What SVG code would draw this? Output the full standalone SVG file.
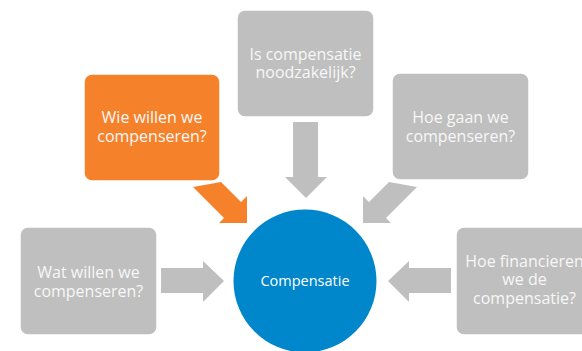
<svg xmlns="http://www.w3.org/2000/svg" width="582" height="351" viewBox="0 0 582 351">
  <style>
    .box { fill: #BFBFBF; stroke: #FFFFFF; stroke-width: 1.5; }
    .box.hl { fill: #F5822A; }
    .arrow { fill: #BFBFBF; }
    .arrow.hl { fill: #F5822A; }
    .lbl { font-family: "Open Sans", "Noto Sans", sans-serif; font-size: 16px; fill: #F7F7F7; text-anchor: middle; }
    .hub { fill: #0086CA; }
    .hub-lbl { font-family: "Open Sans", "Noto Sans", sans-serif; font-size: 14.5px; fill: #FFFFFF; text-anchor: middle; }
  </style>

  <!-- arrows pointing into the central circle -->
  <g id="connectors">
    <polygon class="arrow hl" points="193,187 221,182 241,202 247,196 247,223 219,223 224,218"/>
    <polygon class="arrow" points="293,122 318,122 318,177 327,177 306,198 285,177 293,177"/>
    <polygon class="arrow" points="417,187 389,182 369,202 363,196 363,223 391,223 386,218"/>
    <polygon class="arrow" points="161,268 203,268 203,261 224,281 203,302 203,293 161,293"/>
    <polygon class="arrow" points="451,268 409,268 409,261 388,281 409,302 409,293 451,293"/>
  </g>

  <g id="node-wie">
    <rect class="box hl" x="84" y="74" width="136" height="107" rx="8"/>
    <text class="lbl" x="152" y="123">Wie willen we</text>
    <text class="lbl" x="152" y="142">compenseren?</text>
  </g>

  <g id="node-noodzaak">
    <rect class="box" x="237" y="10" width="137" height="107" rx="8"/>
    <text class="lbl" x="305.5" y="59.5">Is compensatie</text>
    <text class="lbl" x="305.5" y="78">noodzakelijk?</text>
  </g>

  <g id="node-hoe">
    <rect class="box" x="392" y="73" width="137" height="107" rx="8"/>
    <text class="lbl" x="460.5" y="123">Hoe gaan we</text>
    <text class="lbl" x="460.5" y="141.5">compenseren?</text>
  </g>

  <g id="node-wat">
    <rect class="box" x="20" y="227" width="137" height="108" rx="8"/>
    <text class="lbl" x="88.5" y="278">Wat willen we</text>
    <text class="lbl" x="88.5" y="297">compenseren?</text>
  </g>

  <g id="node-financiering">
    <rect class="box" x="456" y="227" width="137" height="108" rx="8"/>
    <text class="lbl" x="524.5" y="266.5">Hoe financieren</text>
    <text class="lbl" x="524.5" y="285">we de</text>
    <text class="lbl" x="524.5" y="303.5">compensatie?</text>
  </g>

  <g id="node-compensatie">
    <circle class="hub" cx="305" cy="281" r="71.5"/>
    <text class="hub-lbl" x="305" y="286">Compensatie</text>
  </g>
</svg>
